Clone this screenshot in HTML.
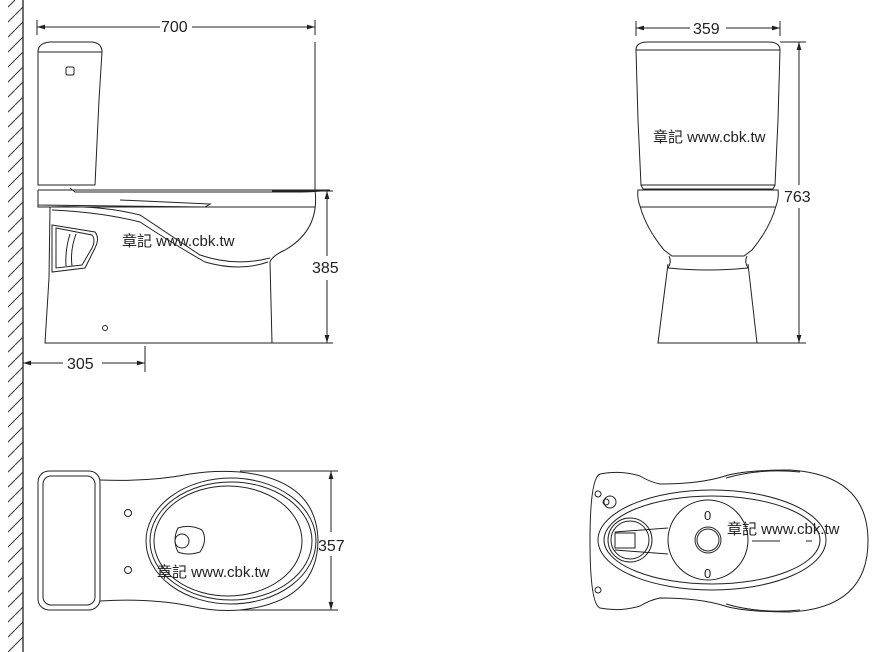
<!DOCTYPE html>
<html><head><meta charset="utf-8"><style>
html,body{margin:0;padding:0;background:#fff;}
svg{display:block;}
text{font-family:"Liberation Sans","Noto Sans CJK TC",sans-serif;fill:#222;}
</style></head><body>
<svg width="882" height="652" viewBox="0 0 882 652" xmlns="http://www.w3.org/2000/svg">
<defs>
<pattern id="h" width="15" height="15" patternUnits="userSpaceOnUse">
<line x1="0" y1="15" x2="15" y2="0" stroke="#333" stroke-width="1"/>
</pattern>
<marker id="a" viewBox="0 0 10 10" refX="10" refY="5" markerWidth="8" markerHeight="8" orient="auto-start-reverse"><path d="M0,2 L10,5 L0,8z" fill="#222"/></marker>
</defs>
<g stroke="#222" fill="none" stroke-width="1">
<rect x="8" y="0" width="15" height="652" fill="url(#h)" stroke="none"/>
<line x1="23" y1="0" x2="23" y2="652" stroke-width="1.3"/>

<!-- SIDE VIEW -->
<line x1="37" y1="27" x2="160" y2="27" marker-start="url(#a)"/>
<line x1="192" y1="27" x2="315" y2="27" marker-end="url(#a)"/>
<line x1="37" y1="20" x2="37" y2="35"/>
<line x1="315" y1="20" x2="315" y2="35"/>
<line x1="315" y1="42" x2="315" y2="190"/>
<path d="M38,52 Q38,43 50,42 L92,42 Q102,43 102,52 Z"/>
<path d="M38,52 L102,52 L99,100 L95,185 L38,185 Z"/>
<rect x="66" y="67" width="8" height="8" rx="1.5"/>
<path d="M38,190 L330,190 Q315,192 300,192 L75,192 L70,188"/>
<path d="M38,190 L38,205 L205,207 L210,204 L120,200"/>
<path d="M38,190 L38,207 L315,207"/>
<path d="M315,190 Q320,230 285,250 Q272,256 270,262 L272,343"/>
<path d="M50,207 Q100,205 140,215 Q170,235 200,255 Q235,267 270,258"/>
<path d="M52,210 Q100,212 140,222 Q175,245 205,262 Q240,272 268,262"/>
<path d="M50,207 L49,278 L45,343 L272,343"/>
<path d="M52,225 L95,232 Q100,238 95,248 L85,268 L52,272 Z"/>
<path d="M56,228 L92,235 Q96,240 92,248 L82,265 L56,268 Z"/>
<path d="M70,234 Q65,250 66,266 M76,234 Q70,250 72,266"/>
<circle cx="105" cy="328" r="2.5"/>
<line x1="272" y1="191" x2="333" y2="191"/>
<line x1="272" y1="343" x2="333" y2="343"/>
<line x1="327" y1="191" x2="327" y2="256" marker-start="url(#a)"/>
<line x1="327" y1="280" x2="327" y2="343" marker-end="url(#a)"/>
<line x1="23" y1="363" x2="63" y2="363" marker-start="url(#a)"/>
<line x1="102" y1="363" x2="145" y2="363" marker-end="url(#a)"/>
<line x1="145" y1="346" x2="145" y2="372"/>

<!-- FRONT VIEW -->
<line x1="636" y1="28" x2="690" y2="28" marker-start="url(#a)"/>
<line x1="726" y1="28" x2="780" y2="28" marker-end="url(#a)"/>
<line x1="636" y1="21" x2="636" y2="36"/>
<line x1="780" y1="21" x2="780" y2="36"/>
<path d="M636,50 Q636,42 648,42 L768,42 Q780,42 780,50 Z"/>
<path d="M636,50 L638,120 L641,185 L775,185 L778,120 L780,50"/>
<path d="M641,185 L643,189 L773,189 L775,185"/>
<path d="M638,190 L778,190 Q779,198 776,206 Q770,228 752,250 L744,256 L672,256 L664,250 Q646,228 640,206 Q637,198 638,190 Z"/>
<line x1="640" y1="207" x2="776" y2="207"/>
<path d="M669,256 Q672,262 668,268 Q708,272 748,268 Q744,262 747,256"/>
<path d="M668,264 L658,343 L757,343 L748,264"/>
<line x1="780" y1="42" x2="806" y2="42"/>
<line x1="757" y1="343" x2="806" y2="343"/>
<line x1="799" y1="42" x2="799" y2="185" marker-start="url(#a)"/>
<line x1="799" y1="208" x2="799" y2="343" marker-end="url(#a)"/>

<!-- TOP VIEW -->
<rect x="38" y="471" width="62" height="139" rx="11"/>
<rect x="43" y="476" width="52" height="129" rx="8"/>
<path d="M100,480 Q150,482 190,474 Q215,470 240,472 Q317,480 318,541 Q317,602 240,610 Q215,612 190,606 Q150,598 100,601"/>
<ellipse cx="231" cy="541" rx="85" ry="63"/>
<ellipse cx="231" cy="541" rx="81" ry="59"/>
<ellipse cx="228" cy="541" rx="74" ry="55"/>
<path d="M178,528 Q190,524 202,530 Q208,540 200,552 Q188,556 178,552 Q172,540 178,528 Z"/>
<circle cx="182" cy="541" r="7"/>
<circle cx="128" cy="513" r="3.5"/>
<circle cx="128" cy="570" r="3.5"/>
<line x1="240" y1="471" x2="338" y2="471"/>
<line x1="240" y1="610" x2="338" y2="610"/>
<line x1="331" y1="471" x2="331" y2="532" marker-start="url(#a)"/>
<line x1="331" y1="556" x2="331" y2="610" marker-end="url(#a)"/>

<!-- BOTTOM VIEW -->
<path d="M600,474 Q620,470 640,476 Q650,482 660,484 Q700,484 725,476 Q745,470 790,470 Q868,475 868,541 Q868,608 790,612 Q745,612 725,606 Q700,598 660,598 Q650,600 640,606 Q620,612 600,608 Q590,604 590,541 Q590,478 600,474 Z"/>
<path d="M726,478 Q760,468 800,472 M726,604 Q760,614 800,610"/>
<ellipse cx="712" cy="540" rx="114" ry="50"/>
<ellipse cx="712" cy="540" rx="108" ry="44"/>
<circle cx="708" cy="540" r="40"/>
<circle cx="708" cy="540" r="13"/>
<circle cx="708" cy="540" r="11"/>
<circle cx="630" cy="540" r="22"/>
<circle cx="630" cy="540" r="19"/>
<path d="M615,532 L668,528 M615,550 L668,554"/>
<rect x="615" y="533" width="20" height="15"/>
<circle cx="598" cy="494" r="3"/>
<circle cx="610" cy="502" r="6"/>
<circle cx="606" cy="502" r="3"/>
<circle cx="598" cy="590" r="3"/>
<line x1="752" y1="541" x2="780" y2="541"/>
<line x1="806" y1="541" x2="812" y2="541"/>
</g>
<g font-size="16">
<text x="161" y="32">700</text>
<text x="312" y="273">385</text>
<text x="67" y="369">305</text>
<text x="693" y="34">359</text>
<text x="784" y="202">763</text>
<text x="318" y="551">357</text>
</g>
<g font-size="13">
<text x="704" y="520">0</text>
<text x="704" y="578">0</text>
</g>
<g font-size="15">
<text x="122" y="246">章記 www.cbk.tw</text>
<text x="653" y="142">章記 www.cbk.tw</text>
<text x="157" y="577">章記 www.cbk.tw</text>
<text x="727" y="534">章記 www.cbk.tw</text>
</g>
</svg>
</body></html>
